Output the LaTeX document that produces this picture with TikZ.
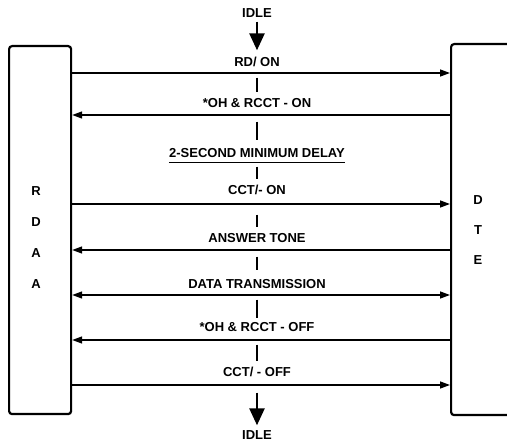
\documentclass[tikz,border=0pt]{standalone}
\usepackage{fontspec}
\setmainfont{Liberation Sans}
\usetikzlibrary{arrows.meta,positioning}

\begin{document}
\begin{tikzpicture}[x=1pt, y=-1pt,
  every node/.style={font=\bfseries\fontsize{13}{15.5}\selectfont},
  lbl/.style={inner sep=0pt, text height=9pt, text depth=0pt},
  box/.style={draw, line width=2.2pt, rounded corners=3pt, inner sep=0pt},
  sig/.style={line width=1.4pt},
  sigR/.style={sig, -{Triangle[length=10pt, width=7pt]}},
  sigL/.style={sig, {Triangle[length=10pt, width=7pt]}-},
  sigB/.style={sig, {Triangle[length=10pt, width=7pt]}-{Triangle[length=10pt, width=7pt]}},
  bar/.style={line width=2.4pt, shorten >=6pt},
  flow/.style={line width=2.6pt, -{Triangle[length=17pt, width=15pt]}},
]
\useasboundingbox (0,0) rectangle (507,441);

% the two stations
\node[box, anchor=north west, minimum width=62, minimum height=368] (rdaa) at (8,45) {};
\node[box, anchor=north west, minimum width=110, minimum height=371] (dte) at (450,43) {};
\node[align=center, inner sep=0pt] (rdaatxt) at (36,238) {R\\[15.5pt]D\\[15.5pt]A\\[15.5pt]A};
\node[align=center, inner sep=0pt] (dtetxt) at (478,230) {D\\[14.5pt]T\\[14.5pt]E};

% sequence labels
\node[lbl] (idletop) at (257,13)  {IDLE};
\node[lbl] (rdon)    at (257,62)  {RD/ ON};
\node[lbl] (ohon)    at (257,103) {*OH \& RCCT - ON};
\node[lbl] (delay)   at (257,153) {2-SECOND MINIMUM DELAY};
\node[lbl] (cctone)  at (257,190) {CCT/- ON};
\node[lbl] (answer)  at (257,238) {ANSWER TONE};
\node[lbl] (data)    at (257,284) {DATA TRANSMISSION};
\node[lbl] (ohoff)   at (257,327) {*OH \& RCCT - OFF};
\node[lbl] (cctoff)  at (257,372) {CCT/ - OFF};
\node[lbl] (idlebot) at (257,435) {IDLE};
\draw[line width=1.3pt] ([yshift=-5pt]delay.south west) -- ([yshift=-5pt]delay.south east);

% signals between RDAA and DTE
\draw[sigR] (rdaa.east |- 0,73)  -- (dte.west |- 0,73);
\draw[sigL] (rdaa.east |- 0,115) -- (dte.west |- 0,115);
\draw[sigR] (rdaa.east |- 0,204) -- (dte.west |- 0,204);
\draw[sigL] (rdaa.east |- 0,250) -- (dte.west |- 0,250);
\draw[sigB] (rdaa.east |- 0,295) -- (dte.west |- 0,295);
\draw[sigL] (rdaa.east |- 0,340) -- (dte.west |- 0,340);
\draw[sigR] (rdaa.east |- 0,385) -- (dte.west |- 0,385);

% time flow
\draw[flow, shorten <=4pt, shorten >=7pt] (idletop) -- (rdon);
\draw[bar, shorten <=11pt] (rdon) -- (ohon);
\draw[bar, shorten <=14pt, shorten >=8pt] (ohon) -- (delay);
\draw[bar, shorten <=9pt] (delay) -- (cctone);
\draw[bar, shorten <=20pt] (cctone) -- (answer);
\draw[bar, shorten <=14pt, shorten >=9pt] (answer) -- (data);
\draw[bar, shorten <=11pt, shorten >=4pt] (data) -- (ohoff);
\draw[bar, shorten <=13pt] (ohoff) -- (cctoff);
\draw[flow, shorten <=16pt, shorten >=5pt] (cctoff) -- (idlebot);
\end{tikzpicture}
\end{document}
